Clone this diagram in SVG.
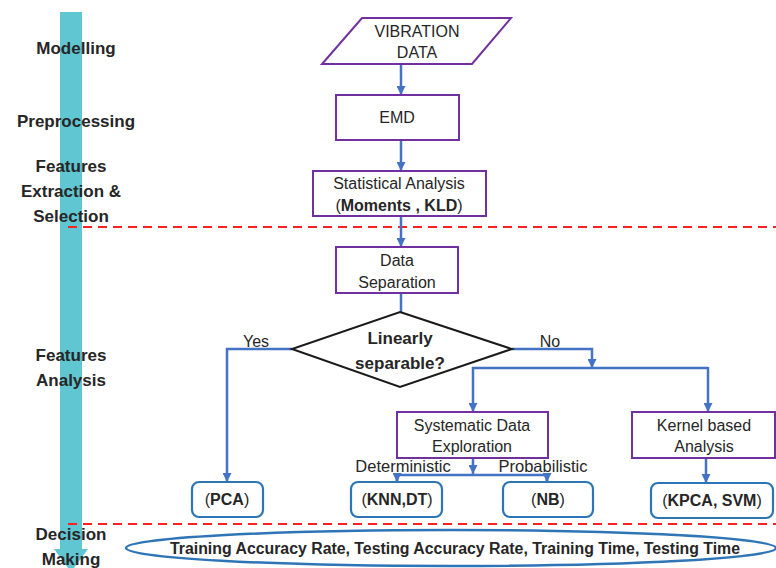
<svg xmlns="http://www.w3.org/2000/svg" width="776" height="568" viewBox="0 0 776 568">
<style>
.stage{font-family:"Liberation Sans",Arial,sans-serif;font-weight:bold;font-size:17px;fill:#262626;text-anchor:middle}
.t{font-family:"Liberation Sans",Arial,sans-serif;font-size:16px;fill:#262626;text-anchor:middle}
.lbl{font-size:16.5px}
.b{font-weight:bold}
.proc{fill:#fff;stroke:#7030a0;stroke-width:2}
.res{fill:#fff;stroke:#2e75b6;stroke-width:2.2}
.con{fill:none;stroke:#4472c4;stroke-width:2.5}
.sep{stroke:#ff2020;stroke-width:1.8;stroke-dasharray:9 6}
</style>
<defs>
<marker id="ah" viewBox="0 0 10 10" refX="10" refY="5" markerWidth="9" markerHeight="9" markerUnits="userSpaceOnUse" orient="auto">
<path d="M0,0 L10,5 L0,10 z" fill="#4472c4"/>
</marker>
</defs>
<g id="timeline">
<rect x="60" y="12" width="22" height="538" fill="#5fc6d2"/>
<path d="M54,549 L88,549 L71,572 z" fill="#5fc6d2"/>
</g>
<g id="separators">
<line class="sep" x1="68" y1="227" x2="776" y2="227"/>
<line class="sep" x1="68" y1="524" x2="776" y2="524"/>
</g>
<g id="stages">
<text class="stage" x="76" y="54">Modelling</text>
<text class="stage" x="76" y="127">Preprocessing</text>
<text class="stage" x="71" y="172">Features</text>
<text class="stage" x="71" y="197">Extraction &amp;</text>
<text class="stage" x="71" y="222">Selection</text>
<text class="stage" x="71" y="361">Features</text>
<text class="stage" x="71" y="386">Analysis</text>
<text class="stage" x="71" y="540">Decision</text>
<text class="stage" x="71" y="565">Making</text>
</g>
<g id="connectors">
<line class="con" x1="401" y1="64" x2="401" y2="95" marker-end="url(#ah)"/>
<line class="con" x1="401" y1="140" x2="401" y2="171" marker-end="url(#ah)"/>
<line class="con" x1="401" y1="216" x2="401" y2="247" marker-end="url(#ah)"/>
<line class="con" x1="401" y1="293" x2="401" y2="312"/>
<polyline class="con" points="292,349 227,349 227,482" marker-end="url(#ah)"/>
<polyline class="con" points="512,349 592,349 592,368" marker-end="url(#ah)"/>
<line class="con" x1="472" y1="368" x2="708" y2="368"/>
<line class="con" x1="473" y1="367" x2="473" y2="412" marker-end="url(#ah)"/>
<line class="con" x1="708" y1="367" x2="708" y2="412" marker-end="url(#ah)"/>
<line class="con" x1="473" y1="458" x2="473" y2="474" marker-end="url(#ah)"/>
<polyline class="con" points="397,482 397,475 547,475 547,482"/>
<line class="con" x1="397" y1="474" x2="397" y2="482" marker-end="url(#ah)"/>
<line class="con" x1="547" y1="474" x2="547" y2="482" marker-end="url(#ah)"/>
<line class="con" x1="706" y1="458" x2="706" y2="483" marker-end="url(#ah)"/>
<text class="t" x="256" y="347">Yes</text>
<text class="t" x="550" y="347">No</text>
<text class="t lbl" x="403" y="472">Deterministic</text>
<text class="t lbl" x="543" y="472">Probabilistic</text>
</g>
<g id="vibration">
<polygon class="proc" points="362,18 511,18 472,64 322,64"/>
<text class="t" x="417" y="37">VIBRATION</text>
<text class="t" x="417" y="58">DATA</text>
</g>
<g id="emd">
<rect class="proc" x="336" y="95" width="123" height="45"/>
<text class="t" x="397" y="123">EMD</text>
</g>
<g id="stat">
<rect class="proc" x="313" y="171" width="173" height="45"/>
<text class="t" x="399" y="189">Statistical Analysis</text>
<text class="t" x="399" y="211">(<tspan class="b">Moments , KLD</tspan>)</text>
</g>
<g id="datasep">
<rect class="proc" x="336" y="247" width="122" height="46"/>
<text class="t" x="397" y="266">Data</text>
<text class="t" x="397" y="288">Separation</text>
</g>
<g id="decision">
<polygon points="400,312 512,349 400,387 292,349" fill="#fff" stroke="#1a1a1a" stroke-width="2"/>
<text class="t b" x="400" y="344" style="font-size:17px">Linearly</text>
<text class="t b" x="400" y="369" style="font-size:17px">separable?</text>
</g>
<g id="systematic">
<rect class="proc" x="397" y="412" width="151" height="46"/>
<text class="t" x="472" y="431">Systematic Data</text>
<text class="t" x="472" y="452">Exploration</text>
</g>
<g id="kernel">
<rect class="proc" x="632" y="412" width="143" height="46"/>
<text class="t" x="704" y="431">Kernel based</text>
<text class="t" x="704" y="452">Analysis</text>
</g>
<g id="pca">
<rect class="res" x="192" y="482" width="71" height="35" rx="7"/>
<text class="t" x="227" y="505">(<tspan class="b">PCA</tspan>)</text>
</g>
<g id="knn">
<rect class="res" x="351" y="482" width="91" height="35" rx="7"/>
<text class="t" x="397" y="505">(<tspan class="b">KNN,DT</tspan>)</text>
</g>
<g id="nb">
<rect class="res" x="503" y="482" width="90" height="35" rx="7"/>
<text class="t" x="548" y="505">(<tspan class="b">NB</tspan>)</text>
</g>
<g id="kpca">
<rect class="res" x="651" y="483" width="122" height="35" rx="7"/>
<text class="t" x="712" y="506">(<tspan class="b">KPCA, SVM</tspan>)</text>
</g>
<g id="metrics">
<ellipse cx="451" cy="548" rx="325" ry="18" fill="#fff" stroke="#2e75b6" stroke-width="2.5"/>
<text class="t b" x="455" y="554" textLength="570" lengthAdjust="spacingAndGlyphs">Training Accuracy Rate, Testing Accuracy Rate, Training Time, Testing Time</text>
</g>
</svg>
